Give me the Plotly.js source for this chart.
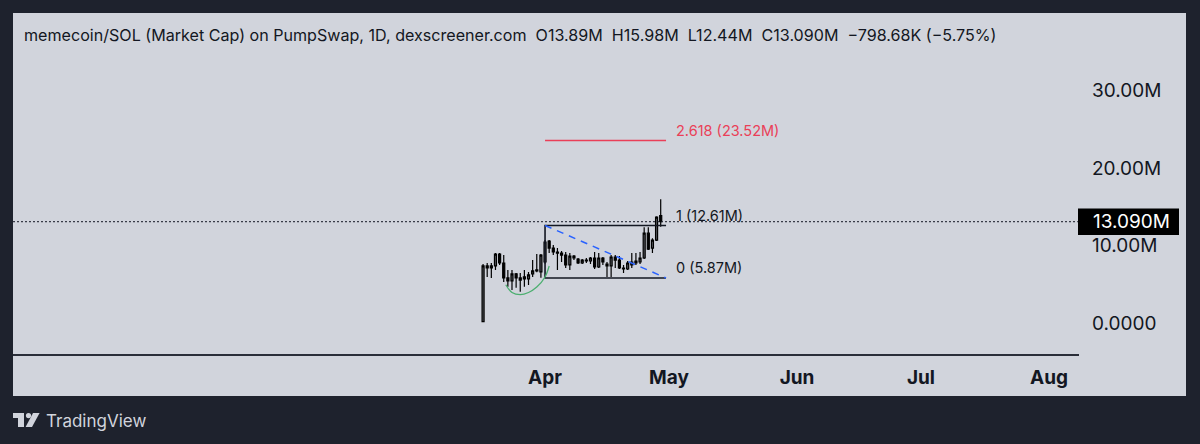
<!DOCTYPE html>
<html><head><meta charset="utf-8">
<script src="https://cdn.plot.ly/plotly-3.0.1.min.js"></script>
<style>html,body{margin:0;padding:0;background:#1e222d;overflow:hidden}#c{width:1200px;height:444px}</style>
</head><body><div id="c"></div>
<script>
const dates = ['03-17','03-18','03-19','03-20','03-21','03-22','03-23','03-24','03-25','03-26','03-27','03-28','03-29','03-30','03-31','04-01','04-02','04-03','04-04','04-05','04-06','04-07','04-08','04-09','04-10','04-11','04-12','04-13','04-14','04-15','04-16','04-17','04-18','04-19','04-20','04-21','04-22','04-23','04-24','04-25','04-26','04-27','04-28','04-29'].map(d=>'2025-'+d);
const open  = [0.26,7.41,7.15,7.41,8.94,7.79,5.87,5.49,6.39,5.87,5.75,5.75,6.39,6.77,6.64,7.92,10.6,9.7,9.2,9.07,8.81,7.54,8.68,8.3,7.79,8.17,8.05,8.43,7.28,8.43,7.66,7.41,8.56,8.17,7.15,7.02,7.54,7.79,7.92,8.43,11.62,9.7,10.73,13.89];
const high  = [7.66,7.79,7.79,9.07,9.07,8.81,6.9,6.9,6.51,6.51,6.9,6.64,8.17,8.94,8.94,10.73,10.73,10.09,9.7,9.32,9.2,9.07,8.81,8.43,8.3,8.43,8.56,9.2,9.07,8.56,7.92,8.81,8.81,8.68,7.54,8.05,9.07,9.07,9.2,12.39,12.39,10.98,13.79,15.98];
const low   = [0.19,6.0,5.87,6.9,7.54,5.36,4.73,4.34,4.6,4.09,4.73,4.98,6.0,6.6,5.9,7.7,9.07,8.81,6.9,7.92,7.15,6.9,8.17,7.66,7.66,7.79,7.66,7.02,7.15,7.54,6.0,6.0,7.15,7.02,6.51,6.9,7.15,7.54,7.66,8.3,9.45,9.07,10.6,12.44];
const close = [7.41,7.15,7.41,8.94,7.79,5.87,5.49,6.39,5.87,5.6,6.0,6.26,6.77,6.9,8.81,10.47,9.7,9.2,9.07,8.81,7.54,8.68,8.43,7.79,8.17,8.05,8.43,7.28,8.43,7.92,7.41,8.56,8.17,7.15,7.02,7.79,7.92,8.05,8.43,11.62,9.58,10.73,13.67,13.09];
const lastClose = 13.09;

const fibStart = '2025-04-01', fibEnd = '2025-04-30 07:00';
const fibTop = 12.61, fibBottom = 5.87, fibTarget = 23.52;
const arcX = ['2025-03-22 12:00','2025-03-24','2025-03-26','2025-03-28','2025-03-30','2025-04-01','2025-04-02'];
const arcY = [5.0,4.0,3.72,4.0,4.7,6.0,7.4];

const monthTicks = ['2025-04-01','2025-05-01','2025-06-01','2025-07-01','2025-08-01'];
const monthLabels = ['Apr','May','Jun','Jul','Aug'];
const priceTicks = [0,10,20,30];
const priceLabels = ['0.0000','10.00M','20.00M','30.00M'];
const titleText = 'memecoin/SOL (Market Cap) on PumpSwap, 1D, dexscreener.com  O13.89M  H15.98M  L12.44M  C13.090M  −798.68K (−5.75%)';

const FONT = 'Inter, "Noto Sans", sans-serif', INK = '#131722', PANEL = '#d1d4dc';
const logo = 'data:image/svg+xml;utf8,' + encodeURIComponent('<svg xmlns="http://www.w3.org/2000/svg" viewBox="0 0 27 14"><path fill="#d1d4dc" d="M0 0h11v14H5V5H0z"/><circle cx="15.5" cy="2.6" r="2.6" fill="#d1d4dc"/><path fill="#d1d4dc" d="M20 0h6.6L19 14h-6.4z"/></svg>');

const traces = [
 {type:'scatter',mode:'lines',x:[fibStart,fibEnd],y:[fibTarget,fibTarget],line:{color:'#ea3f58',width:1.5}},
 {type:'scatter',mode:'lines',x:[fibEnd,fibStart,fibStart,fibEnd],y:[fibTop,fibTop,fibBottom,fibBottom],line:{color:'#131722',width:1.6}},
 {type:'scatter',mode:'lines',x:[fibStart,fibEnd],y:[fibTop,fibBottom],line:{color:'#2962ff',width:1.5,dash:'7px,6px'}},
 {type:'scatter',mode:'lines',x:arcX,y:arcY,line:{color:'#4caf70',width:1.3,shape:'spline'}},
 {type:'candlestick',x:dates,open,high,low,close,
  increasing:{line:{color:'#000',width:1.2},fillcolor:'#55585e'},
  decreasing:{line:{color:'#000',width:1.2},fillcolor:'#000'},whiskerwidth:0}
];
const layout = {
 width:1200,height:444,margin:{l:13,r:120,t:13,b:90},showlegend:false,
 paper_bgcolor:'#1e222d',plot_bgcolor:PANEL,font:{family:FONT,color:INK},
 hovermode:false,
 title:{text:titleText,xref:'container',yref:'container',x:24/1200,y:1-35/444,xanchor:'left',yanchor:'middle',font:{family:FONT,size:16.1,color:INK}},
 xaxis:{type:'date',range:['2024-11-23 05:00','2025-08-08 12:00'],rangeslider:{visible:false},tickmode:'array',tickvals:monthTicks,ticktext:monthLabels,
  tickfont:{family:FONT,size:19,color:INK,weight:'bold'},ticks:'',showgrid:false,zeroline:false,showline:true,linecolor:'#2a2e39',linewidth:2,ticklabelstandoff:5},
 yaxis:{side:'right',range:[-3.89,39.88],tickmode:'array',tickvals:priceTicks,ticktext:priceLabels,tickfont:{family:FONT,size:19,color:INK},ticks:'',showgrid:false,zeroline:false,showline:false,ticklabelstandoff:11},
 images:[{source:logo,xref:'paper',yref:'paper',x:0,y:-(413-354)/341,sizex:27/1067,sizey:14/341,xanchor:'left',yanchor:'top',sizing:'stretch',layer:'above'}],
 shapes:[
  {type:'rect',layer:'below',xref:'paper',yref:'paper',x0:0,x1:(1186-13)/1067,y0:-(396-354)/341,y1:1,fillcolor:PANEL,line:{width:0}},
  {type:'line',xref:'paper',yref:'y',x0:0,x1:0.998,y0:lastClose,y1:lastClose,line:{color:INK,width:1,dash:'2px,2px'}},
  {type:'rect',xref:'paper',yref:'y',x0:(1078-13)/1067,x1:(1179-13)/1067,y0:11.37,y1:14.8,fillcolor:'#000',line:{width:0}},
  {type:'line',xref:'paper',yref:'paper',x0:1,x1:1,y0:-0.006,y1:0.006,line:{color:PANEL,width:2}}
 ],
 annotations:[
  {xref:'x',yref:'y',x:'2025-05-02 07:00',y:24.8,text:'2.618 (23.52M)',showarrow:false,xanchor:'left',font:{size:14.5,color:'#ea3f58',family:FONT}},
  {xref:'x',yref:'y',x:'2025-05-02 07:00',y:13.85,text:'1 (12.61M)',showarrow:false,xanchor:'left',font:{size:14.5,color:INK,family:FONT}},
  {xref:'x',yref:'y',x:'2025-05-02 07:00',y:7.15,text:'0 (5.87M)',showarrow:false,xanchor:'left',font:{size:14.5,color:INK,family:FONT}},
  {xref:'paper',yref:'y',x:(1092-13)/1067,y:lastClose,text:'13.090M',showarrow:false,xanchor:'left',borderpad:0,font:{size:19,color:'#fff',family:FONT}},
  {xref:'paper',yref:'paper',x:(44-13)/1067,y:-(421-354)/341,text:'TradingView',showarrow:false,xanchor:'left',yanchor:'middle',font:{size:17,color:PANEL,family:FONT}}
 ]
};
Plotly.newPlot('c',traces,layout,{displayModeBar:false,staticPlot:true});
</script></body></html>
